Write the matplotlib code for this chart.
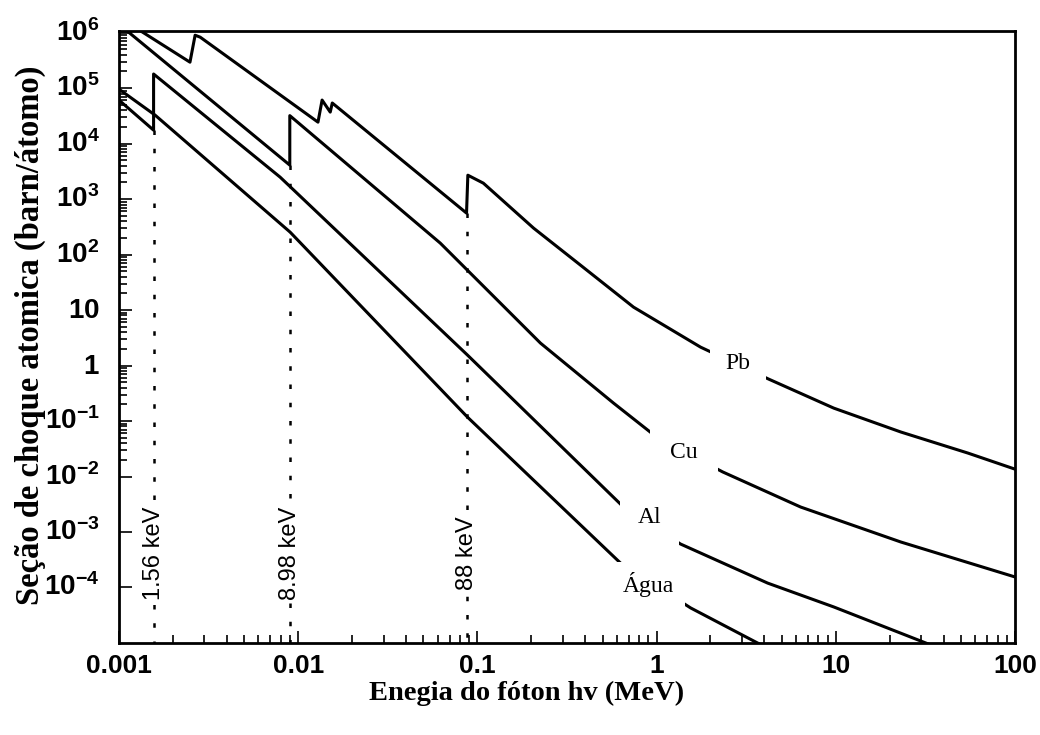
import matplotlib
matplotlib.use("Agg")
from matplotlib import pyplot as plt
from matplotlib import transforms as mtransforms
from matplotlib.ticker import FixedLocator, FixedFormatter, NullFormatter

plt.rcParams['mathtext.fontset'] = 'custom'
plt.rcParams['mathtext.rm'] = 'Liberation Sans:bold'
plt.rcParams['mathtext.it'] = 'Liberation Sans:bold'
plt.rcParams['mathtext.bf'] = 'Liberation Sans:bold'

# energia do foton (MeV) e secao de choque (barn/atomo)
pb_e = [0.001, 0.00249, 0.00266, 0.00284, 0.0129, 0.0136, 0.0151, 0.0155, 0.087, 0.0885,
        0.108, 0.206, 0.376, 0.744, 1.76, 4.22, 9.75, 23.1, 54.6, 100]
pb_s = [1.9e6, 2.94e5, 9.0e5, 8.3e5, 2.44e4, 6.1e4, 3.7e4, 5.4e4, 560, 2.7e3,
        1.94e3, 300, 64.7, 11.3, 2.15, 0.571, 0.171, 0.0634, 0.0265, 0.0136]

cu_e = [0.001, 0.00898, 0.00898, 0.0621, 0.225, 0.575, 1.0, 2.34, 6.37, 23.1, 100]
cu_s = [1.42e6, 4.1e3, 3.2e4, 161, 2.54, 0.211, 0.0515, 0.0121, 2.82e-3, 6.6e-4, 1.55e-4]

al_e = [0.001, 0.00156, 0.00156, 0.00793, 0.088, 0.654, 1.36, 4.17, 9.75, 31.8, 100]
al_s = [6.1e4, 1.75e4, 1.8e5, 2.49e3, 1.55, 2.82e-3, 6.08e-4, 1.2e-4, 4.46e-5, 1e-5, 2.3e-6]

agua_e = [0.001, 0.00159, 0.00902, 0.088, 0.629, 1.55, 3.66, 12.1]
agua_s = [9.6e4, 3.27e4, 254, 0.118, 2.76e-4, 4.28e-5, 1e-5, 1.4e-6]

# bordas de absorcao K
edge_e = [0.00156, 0.00898, 0.088]
edge_s = [1.75e4, 4.1e3, 560]
edge_txt = ['1.56 keV', '8.98 keV', '88 keV']

names = ['Pb', 'Cu', 'Al', 'Água']
name_e = [2.84, 1.42, 0.914, 0.90]
name_s = [1.11, 0.0276, 1.79e-3, 1.11e-4]
name_pad = [0.65, 0.85, 0.75, 0.45]

xtick_vals = [0.001, 0.01, 0.1, 1, 10, 100]
xtick_txt = ['0.001', '0.01', '0.1', '1', '10', '100']
ytick_vals = [1e-4, 1e-3, 1e-2, 1e-1, 1, 10, 1e2, 1e3, 1e4, 1e5, 1e6]
ytick_txt = [r'$10^{-4}$', r'$10^{-3}$', r'$10^{-2}$', r'$10^{-1}$', r'$1\hspace{0.44}$',
             r'$10\hspace{0.44}$', r'$10^{2}$', r'$10^{3}$', r'$10^{4}$', r'$10^{5}$', r'$10^{6}$']

fig = plt.figure(figsize=(10.4, 7.35), dpi=100)
ax = fig.add_axes([0.1144, 0.1252, 0.8615, 0.8326])

for e, s in [(pb_e, pb_s), (cu_e, cu_s), (al_e, al_s), (agua_e, agua_s)]:
    ax.plot(e, s, color='black', lw=2.2)

ax.set_xscale('log')
ax.set_yscale('log')
ax.set_xlim(1e-3, 100)
ax.set_ylim(1e-5, 10**6.03)

for e, s, t in zip(edge_e, edge_s, edge_txt):
    ax.plot([e, e], [s, 1e-5], color='black', lw=1.8, dashes=(1.8, 5.5))
    ax.text(e, 4.2e-4, t, rotation=90, ha='center', va='center', fontsize=17,
            family='Liberation Sans', bbox=dict(fc='white', ec='none', pad=1))

for n, e, s, p in zip(names, name_e, name_s, name_pad):
    ax.text(e, s, n, ha='center', va='center', fontsize=17, family='Liberation Serif',
            bbox=dict(boxstyle='square,pad=%s' % p, fc='white', ec='none'))

ax.xaxis.set_major_locator(FixedLocator(xtick_vals))
ax.xaxis.set_major_formatter(FixedFormatter(xtick_txt))
ax.xaxis.set_minor_locator(FixedLocator([m * 10.0**k for k in range(-3, 2) for m in range(2, 10)]))
ax.xaxis.set_minor_formatter(NullFormatter())
ax.yaxis.set_major_locator(FixedLocator(ytick_vals))
ax.yaxis.set_major_formatter(FixedFormatter(ytick_txt))
ax.yaxis.set_minor_locator(FixedLocator([m * 10.0**k for k in range(-2, 6) for m in range(2, 10)]))
ax.yaxis.set_minor_formatter(NullFormatter())

ax.tick_params(which='both', direction='in', top=False, right=False, width=1.2)
ax.tick_params(which='major', length=9)
ax.tick_params(which='minor', length=6)
ax.tick_params(axis='x', which='major', pad=8, labelsize=19)
ax.tick_params(axis='y', which='major', pad=14, labelsize=20)
for lab in ax.get_xticklabels():
    lab.set_family('Liberation Sans')
    lab.set_weight('bold')
up = mtransforms.ScaledTranslation(0, 0.03, fig.dpi_scale_trans)
for lab in ax.get_yticklabels():
    lab.set_transform(lab.get_transform() + up)
for sp in ax.spines.values():
    sp.set_linewidth(2)

fig.text(527 / 1040, 1 - 693 / 735, 'Enegia do fóton hv (MeV)', ha='center', va='center',
         fontsize=20.5, family='Liberation Serif', weight='bold')
fig.text(30 / 1040, 1 - 335 / 735, 'Seção de choque atomica (barn/átomo)', rotation=90,
         ha='center', va='center', fontsize=23.5, family='Liberation Serif', weight='bold')

fig.savefig('out.png', dpi=100)
